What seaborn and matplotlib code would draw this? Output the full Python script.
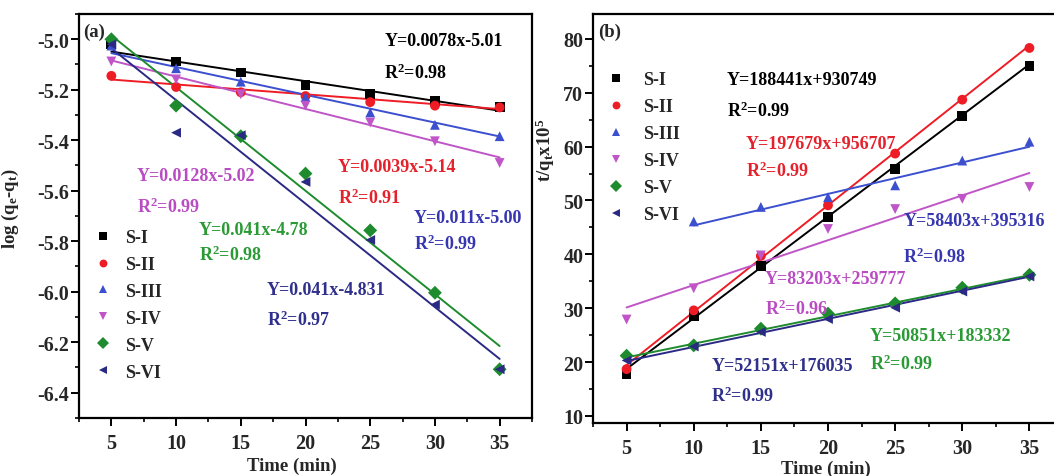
import numpy as np
import pandas as pd
import matplotlib.pyplot as plt
import seaborn as sns
from matplotlib.ticker import MultipleLocator

# ------------------------------------------ DATA ------------------------------------------------#
samples = ["S-I", "S-II", "S-III", "S-IV", "S-V", "S-VI"]
time_min = [5, 10, 15, 20, 25, 30, 35]

# (a) log(qe - qt) vs time
log_s1 = [-5.02, -5.088, -5.132, -5.182, -5.218, -5.243, -5.269]
log_s2 = [-5.145, -5.189, -5.21, -5.225, -5.249, -5.263, -5.27]
log_s3 = [-5.025, -5.115, -5.168, -5.229, -5.29, -5.339, -5.384]
log_s4 = [-5.088, -5.159, -5.218, -5.263, -5.33, -5.404, -5.49]
log_s5 = [-5.0, -5.263, -5.384, -5.532, -5.757, -6.004, -6.307]
log_s6 = [-5.02, -5.37, -5.38, -5.565, -5.795, -6.051, -6.307]

# (b) t/qt x 10^5 vs time (S-III has no point at 5 min)
tq_s1 = [17.7, 28.5, 37.8, 46.9, 55.9, 65.6, 74.9]
tq_s2 = [18.7, 29.6, 39.7, 49.1, 58.7, 68.7, 78.3]
tq_s3 = [np.nan, 46.1, 48.8, 50.6, 52.8, 57.4, 60.9]
tq_s4 = [27.9, 33.7, 39.8, 44.7, 48.4, 50.3, 52.5]
tq_s5 = [21.2, 23.1, 26.2, 29.0, 30.9, 33.8, 36.2]
tq_s6 = [20.3, 22.9, 25.6, 28.0, 30.1, 33.1, 35.9]

# linear fits
slope_a = [-0.0078, -0.0039, -0.011, -0.0128, -0.041, -0.041]
icpt_a = [-5.01, -5.14, -5.00, -5.02, -4.78, -4.831]
slope_b = [1.88441, 1.97679, 0.58403, 0.83203, 0.50851, 0.52151]
icpt_b = [9.30749, 9.56707, 39.5316, 25.9777, 18.3332, 17.6035]

eq_a = ["Y=0.0078x-5.01", "Y=0.0039x-5.14", "Y=0.011x-5.00",
        "Y=0.0128x-5.02", "Y=0.041x-4.78", "Y=0.041x-4.831"]
r2_a = ["0.98", "0.91", "0.99", "0.99", "0.98", "0.97"]
eq_b = ["Y=188441x+930749", "Y=197679x+956707", "Y=58403x+395316",
        "Y=83203x+259777", "Y=50851x+183332", "Y=52151x+176035"]
r2_b = ["0.99", "0.99", "0.98", "0.96", "0.99", "0.99"]

# ------------------------------------------ STYLE ------------------------------------------------#
colors = {"S-I": "#000000", "S-II": "#ee1c25", "S-III": "#3b4fcf",
          "S-IV": "#bf55c7", "S-V": "#1e8c2e", "S-VI": "#2a2a85"}
text_colors = ["#000000", "#e5212b", "#3636b0", "#b94cc2", "#2a9a35", "#2f2f8c"]
markers = {"S-I": "s", "S-II": "o", "S-III": "^", "S-IV": "v", "S-V": "D", "S-VI": "<"}

# label positions (x, y of equation, y of R2) in data units
pos_a = [(26.1, -5.006, -5.13), (22.5, -5.504, -5.627), (28.36, -5.707, -5.809),
         (6.97, -5.54, -5.66), (11.76, -5.755, -5.85), (17.0, -5.99, -6.11)]
pos_b = [(12.48, 72.4, 66.8), (13.86, 60.6, 55.6), (25.6, 46.3, 39.7),
         (15.3, 35.6, 30.0), (23.1, 25.0, 19.7), (11.3, 19.4, 13.75)]

sns.set_theme(style="ticks")
plt.rcParams["font.family"] = ["Liberation Serif", "DejaVu Serif"]
plt.rcParams["font.weight"] = "bold"
plt.rcParams["axes.labelweight"] = "bold"
plt.rcParams["axes.unicode_minus"] = False
plt.rcParams["mathtext.fontset"] = "custom"
plt.rcParams["mathtext.rm"] = "Liberation Serif:bold"
plt.rcParams["mathtext.it"] = "Liberation Serif:bold"
plt.rcParams["mathtext.bf"] = "Liberation Serif:bold"
plt.rcParams["mathtext.default"] = "rm"
FS = 13


def build_frames(series, slopes, icpts):
    rows, fit_rows = [], []
    for name, vals, m, b in zip(samples, series, slopes, icpts):
        xs = [t for t, v in zip(time_min, vals) if not np.isnan(v)]
        for t, v in zip(time_min, vals):
            if not np.isnan(v):
                rows.append({"sample": name, "time": t, "value": v})
        for t in (min(xs), max(xs)):
            fit_rows.append({"sample": name, "time": t, "value": m * t + b})
    return pd.DataFrame(rows), pd.DataFrame(fit_rows)


def draw_panel(ax, series, slopes, icpts, eqs, r2s, pos):
    df, fit = build_frames(series, slopes, icpts)
    sns.lineplot(data=fit, x="time", y="value", hue="sample", palette=colors,
                 estimator=None, sort=False, legend=False, linewidth=1.4, ax=ax)
    sns.scatterplot(data=df, x="time", y="value", hue="sample", style="sample",
                    palette=colors, markers=markers, s=50, linewidth=0, ax=ax, zorder=3)
    for eq, r2, (x, y1, y2), c in zip(eqs, r2s, pos, text_colors):
        ax.text(x, y1, eq, color=c, fontsize=FS, fontweight="bold", va="center", ha="left")
        ax.text(x, y2, "R$^2$=" + r2, color=c, fontsize=FS, fontweight="bold", va="center", ha="left")
    for sp in ax.spines.values():
        sp.set_linewidth(1.6)
        sp.set_color("black")
    ax.tick_params(which="major", length=5.5, width=1.4, pad=1.5, labelsize=14.5, color="black")
    ax.tick_params(which="minor", length=3, width=1.2, color="black")
    ax.tick_params(axis="x", which="major", pad=5)
    ax.xaxis.set_major_locator(MultipleLocator(5))
    ax.xaxis.set_minor_locator(MultipleLocator(2.5))
    ax.set_xlabel("Time (min)", fontsize=13.5, fontweight="bold")


fig = plt.figure(figsize=(10.54, 4.77), dpi=100)
ax1 = fig.add_axes([79 / 1054, 1 - 419 / 477, 453 / 1054, 404 / 477])
ax2 = fig.add_axes([593 / 1054, 1 - 424 / 477, 470 / 1054, 409 / 477])

# ---- panel (a)
draw_panel(ax1, [log_s1, log_s2, log_s3, log_s4, log_s5, log_s6], slope_a, icpt_a, eq_a, r2_a, pos_a)
ax1.set_xlim(2.5, 37.5)
ax1.set_ylim(-6.5, -4.9)
ax1.yaxis.set_major_locator(MultipleLocator(0.2))
ax1.yaxis.set_minor_locator(MultipleLocator(0.1))
ax1.yaxis.set_major_formatter(plt.FuncFormatter(lambda v, p: f"{v:.1f}"))
ax1.set_ylabel("log (q$_e$-q$_t$)", fontsize=13.5, fontweight="bold")
ax1.yaxis.set_label_coords(-0.128, 0.52)
ax1.xaxis.set_label_coords(0.47, -0.095)
ax1.text(0.01, 0.958, "(a)", transform=ax1.transAxes, fontsize=13.5, fontweight="bold", va="center")
h, l = ax1.get_legend_handles_labels()
ax1.legend(h, l, loc="upper left", bbox_to_anchor=(0.033, 0.468), frameon=False,
           fontsize=FS, handlelength=1.0, handletextpad=0.7, labelspacing=0.55,
           borderpad=0, borderaxespad=0, markerscale=0.8)

# ---- panel (b)
draw_panel(ax2, [tq_s1, tq_s2, tq_s3, tq_s4, tq_s5, tq_s6], slope_b, icpt_b, eq_b, r2_b, pos_b)
ax2.set_xlim(2.5, 37.5)
ax2.set_ylim(8.7, 84.6)
ax2.yaxis.set_major_locator(MultipleLocator(10))
ax2.yaxis.set_minor_locator(MultipleLocator(5))
ax2.spines["right"].set_visible(False)
ax2.set_ylabel("t/q$_t$x10$^5$", fontsize=13.5, fontweight="bold")
ax2.yaxis.set_label_coords(-0.077, 0.67)
ax2.xaxis.set_label_coords(0.496, -0.09)
ax2.text(0.01, 0.958, "(b)", transform=ax2.transAxes, fontsize=13.5, fontweight="bold", va="center")
h, l = ax2.get_legend_handles_labels()
ax2.legend(h, l, loc="upper left", bbox_to_anchor=(0.03, 0.86), frameon=False,
           fontsize=FS, handlelength=1.0, handletextpad=1.0, labelspacing=0.55,
           borderpad=0, borderaxespad=0, markerscale=0.8)

fig.savefig("out.png", dpi=100)
plt.close()
